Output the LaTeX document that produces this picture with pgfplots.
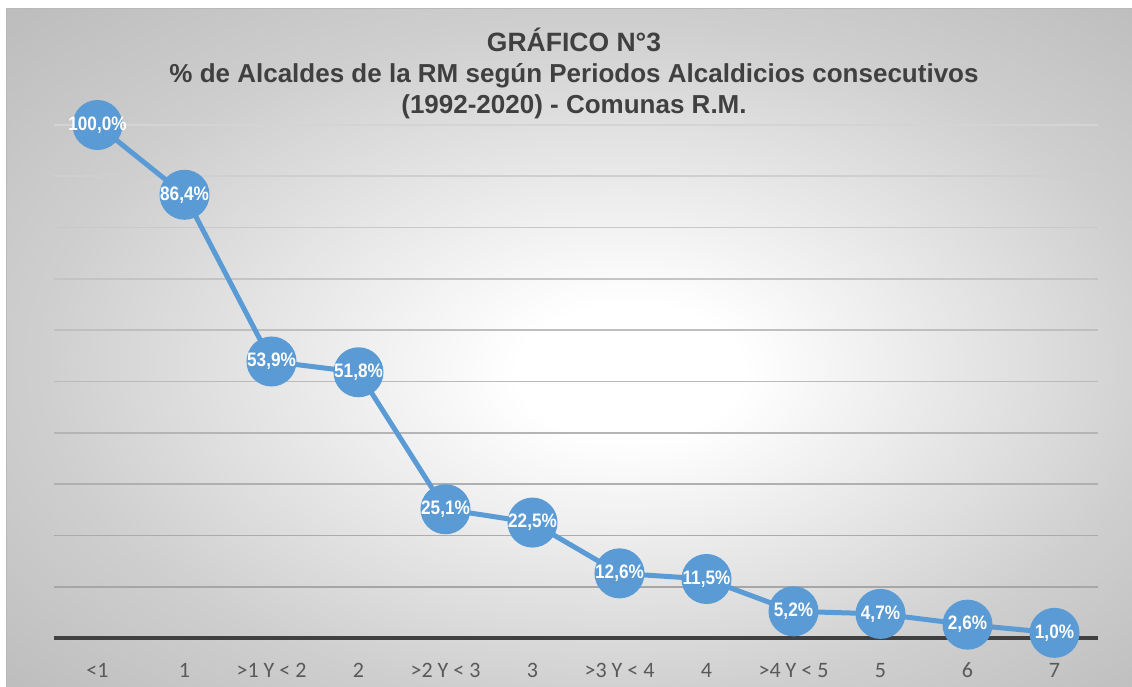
\documentclass[border=0pt]{standalone}
\usepackage{pgfplots}
\pgfplotsset{compat=1.18}
\usepackage{fontspec}
\setmainfont{Liberation Sans}
\newfontfamily\lblfont[FakeStretch=0.88]{Liberation Sans}
\newfontfamily\tickfont{Carlito}
\definecolor{ser}{HTML}{5B9BD5}
\definecolor{tit}{HTML}{404040}
\definecolor{tickc}{HTML}{595959}
\pgfdeclareradialshading{bg}{\pgfpoint{3bp}{-2bp}}{color(0bp)=(white); color(5bp)=(white); color(25bp)=(gray!38); color(36bp)=(gray!52); color(50bp)=(gray!52)}
\begin{document}
\begin{tikzpicture}[x=1pt,y=1pt]
\useasboundingbox (0,0) rectangle (1132,686);
\fill[white] (0,0) rectangle (1132,686);
\shade[shading=bg] (6,0) rectangle (1132,677);
\draw[gray!55, line width=1] (6,0) -- (6,677) -- (1132,677);
\begin{axis}[
  at={(54pt,48pt)}, anchor=south west,
  width=1044pt, height=513pt, scale only axis,
  xmin=-0.5, xmax=11.5, ymin=0, ymax=100,
  clip=false,
  axis x line=bottom, axis y line=left,
  x axis line style={-, line width=3.5pt, color=tit},
  y axis line style={draw=none},
  xtick={0,...,11},
  xticklabels={{<1},1,{>1 Y < 2},2,{>2 Y < 3},3,{>3 Y < 4},4,{>4 Y < 5},5,6,7},
  xticklabel style={font=\tickfont\fontsize{22}{22}\selectfont, text=tickc, anchor=base, yshift=-39pt},
  major tick length=0pt,
  ytick=\empty,
  /pgf/number format/assume math mode=true,
]
\pgfplotsinvokeforeach{10,20,...,100}{
  \draw[line width=1.6pt, color=black!\the\numexpr 37-#1/5\relax] (axis cs:-0.5,#1) -- (axis cs:11.5,#1);
}
\addplot[color=ser, line width=5pt, mark=*, mark size=22.5pt,
  mark options={fill=ser, draw=none},
  nodes near coords={\pgfmathprintnumber[fixed,fixed zerofill,precision=1,use comma,assume math mode=true]{\pgfplotspointmeta}\%},
  nodes near coords align={center},
  every node near coord/.append style={anchor=center, font=\lblfont\bfseries\fontsize{19.5}{19.5}\selectfont, text=white}]
coordinates {(0,100) (1,86.4) (2,53.9) (3,51.8) (4,25.1) (5,22.5) (6,12.6) (7,11.5) (8,5.2) (9,4.7) (10,2.6) (11,1.0)};
\end{axis}
\node[anchor=base, text=tit, font=\bfseries\fontsize{26.5}{31}\selectfont] at (574,634) {GRÁFICO N°3};
\node[anchor=base, text=tit, font=\bfseries\fontsize{26}{31}\selectfont] at (574,603) {\% de Alcaldes de la RM según Periodos Alcaldicios consecutivos};
\node[anchor=base, text=tit, font=\bfseries\fontsize{26}{31}\selectfont] at (574,572) {(1992-2020) - Comunas R.M.};
\end{tikzpicture}
\end{document}
